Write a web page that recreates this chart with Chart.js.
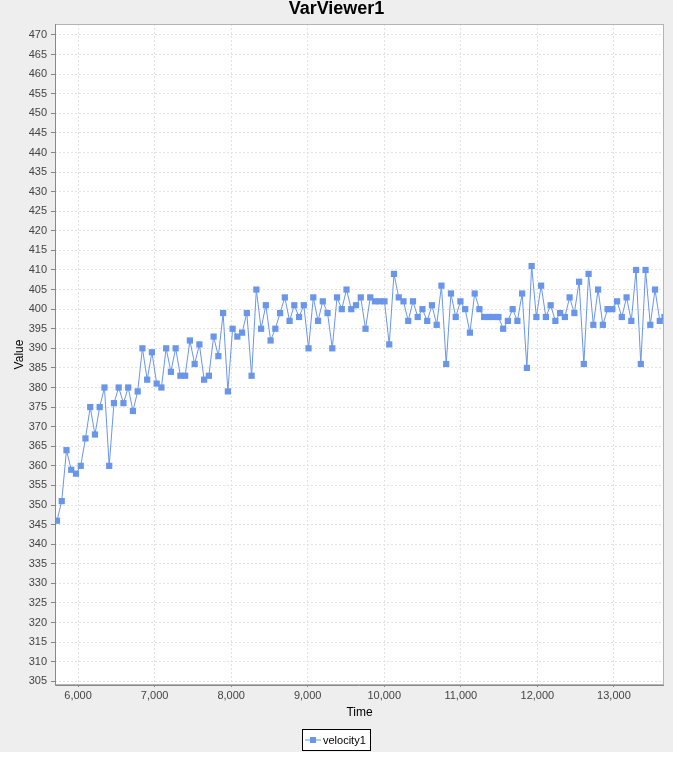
<!DOCTYPE html>
<html>
<head>
<meta charset="utf-8">
<title>VarViewer1</title>
<script src="https://cdn.jsdelivr.net/npm/chart.js@4.4.1/dist/chart.umd.min.js"></script>
<style>
  html, body { margin: 0; padding: 0; background: #ffffff; }
  canvas { display: block; }
</style>
</head>
<body>
<canvas id="varChart" width="673" height="757"></canvas>
<script>
// sample times (ms) of the velocity1 readings
var sampleTimes = [
    5725, 5787, 5849, 5911, 5973, 6035, 6097, 6159, 6221, 6283,
    6345, 6407, 6469, 6531, 6593, 6655, 6717, 6779, 6841, 6903,
    6965, 7027, 7089, 7151, 7213, 7275, 7337, 7399, 7461, 7523,
    7585, 7647, 7709, 7771, 7833, 7895, 7957, 8019, 8081, 8143,
    8205, 8267, 8329, 8391, 8453, 8515, 8577, 8639, 8701, 8763,
    8825, 8887, 8949, 9011, 9073, 9135, 9197, 9259, 9321, 9383,
    9445, 9507, 9569, 9631, 9693, 9755, 9817, 9879, 9941, 10003,
    10065, 10127, 10189, 10251, 10313, 10375, 10437, 10499, 10561, 10623,
    10685, 10747, 10809, 10871, 10933, 10995, 11057, 11119, 11181, 11243,
    11305, 11367, 11429, 11491, 11553, 11615, 11677, 11739, 11801, 11863,
    11925, 11987, 12049, 12111, 12173, 12235, 12297, 12359, 12421, 12483,
    12545, 12607, 12669, 12731, 12793, 12855, 12917, 12979, 13041, 13103,
    13165, 13227, 13289, 13351, 13413, 13475, 13537, 13599, 13661
];

// velocity1 values
var velocity1 = [
    346, 351, 364, 359, 358, 360, 367, 375, 368, 375,
    380, 360, 376, 380, 376, 380, 374, 379, 390, 382,
    389, 381, 380, 390, 384, 390, 383, 383, 392, 386,
    391, 382, 383, 393, 388, 399, 379, 395, 393, 394,
    399, 383, 405, 395, 401, 392, 395, 399, 403, 397,
    401, 398, 401, 390, 403, 397, 402, 399, 390, 403,
    400, 405, 400, 401, 403, 395, 403, 402, 402, 402,
    391, 409, 403, 402, 397, 402, 398, 400, 397, 401,
    396, 406, 386, 404, 398, 402, 400, 394, 404, 400,
    398, 398, 398, 398, 395, 397, 400, 397, 404, 385,
    411, 398, 406, 398, 401, 397, 399, 398, 403, 399,
    407, 386, 409, 396, 405, 396, 400, 400, 402, 398,
    403, 397, 410, 386, 410, 396, 405, 397, 398
];

var seriesLabel = 'velocity1';
var chartTitle = 'VarViewer1';
var xAxisTitle = 'Time';
var yAxisTitle = 'Value';

// axis ranges and ticks
var xRange = [5699, 13654];
var yRange = [304.05, 472.8];
var xTickValues = [6000, 7000, 8000, 9000, 10000, 11000, 12000, 13000];
var yTickStep = 5;

var seriesColor = '#6a96ea';
var gridColor = '#e2e2e2';
var fontFamily = '"Liberation Sans", Arial, sans-serif';

Chart.defaults.font.family = fontFamily;

// grey page, white plot, plot outline and the boxed legend at the bottom
var framePlugin = {
    id: 'frame',
    beforeDraw: function(chart) {
        var c = chart.ctx, a = chart.chartArea;
        c.save();
        c.fillStyle = '#eeeeee';
        c.fillRect(0, 0, chart.width, 752);
        c.fillStyle = '#ffffff';
        c.fillRect(a.left, a.top, a.right - a.left, a.bottom - a.top);
        c.restore();
    },
    afterDraw: function(chart) {
        var c = chart.ctx, a = chart.chartArea;
        c.save();
        c.lineWidth = 1;
        c.strokeStyle = '#b4b4b4';
        c.strokeRect(a.left + 0.5, a.top + 0.5, a.right - a.left - 1, a.bottom - a.top - 1);
        c.strokeStyle = '#888888';
        c.beginPath();
        c.moveTo(a.left + 0.5, a.top);
        c.lineTo(a.left + 0.5, a.bottom + 0.5);
        c.lineTo(a.right, a.bottom + 0.5);
        c.stroke();

        // legend
        var ds = chart.data.datasets[0];
        c.font = '11px ' + fontFamily;
        var tw = c.measureText(ds.label).width;
        var boxW = Math.round(2 + 16 + 3 + tw + 5);
        var boxH = 22;
        var bx = Math.round(chart.width / 2 - boxW / 2);
        var by = 729;
        c.fillStyle = '#ffffff';
        c.fillRect(bx, by, boxW, boxH);
        c.strokeStyle = '#000000';
        c.strokeRect(bx + 0.5, by + 0.5, boxW - 1, boxH - 1);
        var my = by + boxH / 2;
        c.strokeStyle = ds.borderColor;
        c.beginPath();
        c.moveTo(bx + 3, my);
        c.lineTo(bx + 19, my);
        c.stroke();
        c.fillStyle = ds.pointBackgroundColor;
        c.fillRect(bx + 8, my - 3, 6, 6);
        c.fillStyle = '#000000';
        c.textBaseline = 'middle';
        c.textAlign = 'left';
        c.fillText(ds.label, bx + 21, my + 0.5);
        c.restore();
    }
};

var points = sampleTimes.map(function(t, i) {
    return { x: t, y: velocity1[i] };
});

var ctx = document.getElementById('varChart').getContext('2d');

var varChart = new Chart(ctx, {
    type: 'line',
    data: {
        datasets: [{
            label: seriesLabel,
            data: points,
            borderColor: seriesColor,
            borderWidth: 1,
            tension: 0,
            pointStyle: 'rect',
            pointRadius: 4.4,
            pointBorderWidth: 0,
            pointBackgroundColor: seriesColor,
            fill: false
        }]
    },
    options: {
        responsive: false,
        animation: false,
        events: [],
        layout: { padding: { left: 0, right: 0, top: 0, bottom: 32 } },
        plugins: {
            legend: { display: false },
            tooltip: { enabled: false },
            title: {
                display: true,
                text: chartTitle,
                color: '#000000',
                font: { size: 18, weight: 'bold', lineHeight: 1.055 },
                padding: { top: 0, bottom: 5 }
            }
        },
        scales: {
            x: {
                type: 'linear',
                position: 'bottom',
                min: xRange[0],
                max: xRange[1],
                afterBuildTicks: function(s) {
                    s.ticks = xTickValues.map(function(v) { return { value: v }; });
                },
                afterFit: function(s) { s.height = 40; },
                ticks: {
                    color: '#444444',
                    font: { size: 11 },
                    padding: 2,
                    maxRotation: 0,
                    autoSkip: false,
                    callback: function(v) { return v.toLocaleString('en-US'); }
                },
                grid: {
                    color: gridColor,
                    lineWidth: 1,
                    tickLength: 2,
                    tickColor: '#888888',
                    tickBorderDash: []
                },
                border: { display: false, dash: [2, 2] },
                title: {
                    display: true,
                    text: xAxisTitle,
                    color: '#000000',
                    font: { size: 12 },
                    padding: { top: 0, bottom: 5 }
                }
            },
            y: {
                type: 'linear',
                position: 'left',
                min: yRange[0],
                max: yRange[1],
                afterFit: function(s) { s.width = 55; },
                ticks: {
                    stepSize: yTickStep,
                    includeBounds: false,
                    autoSkip: false,
                    color: '#444444',
                    font: { size: 11 },
                    padding: 4
                },
                grid: {
                    color: gridColor,
                    lineWidth: 1,
                    tickLength: 4,
                    tickColor: '#888888',
                    tickBorderDash: []
                },
                border: { display: false, dash: [2, 2] },
                title: {
                    display: true,
                    text: yAxisTitle,
                    color: '#000000',
                    font: { size: 12 },
                    padding: { top: 12, bottom: 0 }
                }
            },
            // empty strip on the right so the plot ends where the reference does
            rightGap: {
                type: 'linear',
                position: 'right',
                afterFit: function(s) { s.width = 9; },
                ticks: { display: false },
                grid: { display: false, drawTicks: false },
                border: { display: false }
            }
        }
    },
    plugins: [framePlugin]
});
</script>
</body>
</html>
